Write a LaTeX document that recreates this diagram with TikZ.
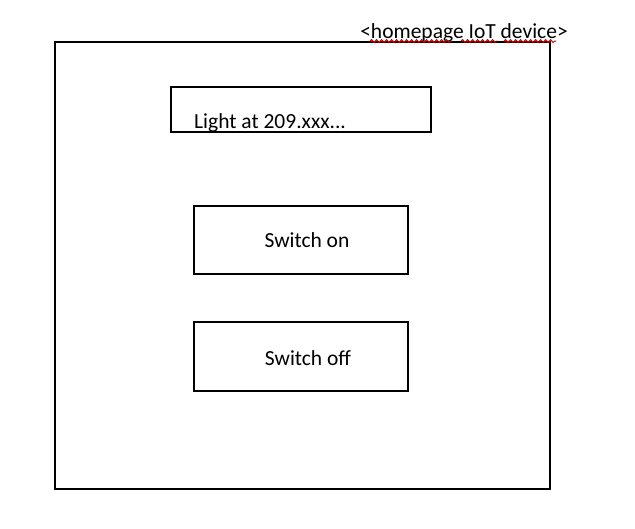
\documentclass[tikz,border=0pt]{standalone}
\usepackage{fontspec}
\setmainfont{Carlito}
\usetikzlibrary{decorations.pathmorphing}
\begin{document}
\begin{tikzpicture}[x=1pt,y=-1pt,
  box/.style={draw=black,line width=1.6pt,inner sep=0pt},
  lbl/.style={font=\fontsize{21.5}{25}\selectfont,inner sep=0pt},
  squig/.style={draw=red!85!black,line width=1pt,decorate,decoration={snake,amplitude=1.4pt,segment length=5pt}}]
\useasboundingbox (0,0) rectangle (635,528);
\node[box,minimum width=495pt,minimum height=447pt,anchor=north west] (outer) at (54,41) {};
\node[box,minimum width=260pt,minimum height=45pt,anchor=north west] (light) at (170,86) {};
\node[lbl,anchor=base west] (lighttxt) at (194,128) {Light at 209.xxx...};
\node[box,minimum width=214pt,minimum height=68pt,anchor=north west] (on) at (193,205) {};
\node[lbl] (ontxt) at (307,240) {Switch on};
\node[box,minimum width=214pt,minimum height=69pt,anchor=north west] (off) at (193,321) {};
\node[lbl] (offtxt) at (308,358) {Switch off};
\node[lbl,anchor=base] (title) at (464,38) {<homepage IoT device>};
\coordinate (s1a) at (370,41); \coordinate (s1b) at (452,41);
\coordinate (s2a) at (461,41); \coordinate (s2b) at (497,41);
\coordinate (s3a) at (504,41); \coordinate (s3b) at (556,41);
\draw[squig] (s1a) -- (s1b);
\draw[squig] (s2a) -- (s2b);
\draw[squig] (s3a) -- (s3b);
\end{tikzpicture}
\end{document}
